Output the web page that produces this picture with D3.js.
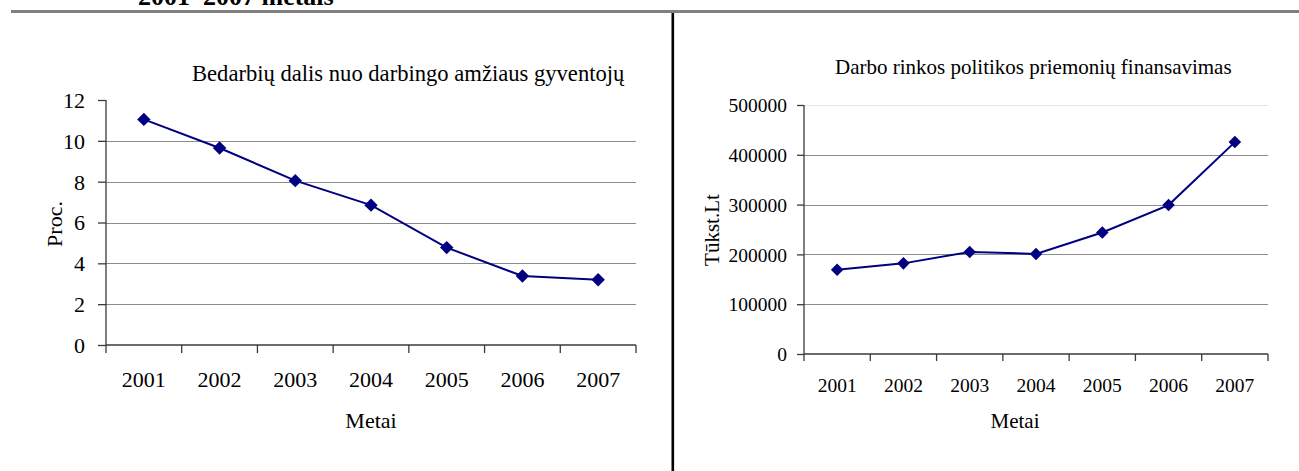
<!DOCTYPE html>
<html>
<head>
<meta charset="utf-8">
<script src="https://cdn.jsdelivr.net/npm/d3@7"></script>
<style>
  body { margin: 0; background: #fff; }
  svg { display: block; }
  svg text { font-family: "Liberation Serif", "Times New Roman", serif; }
  .grid { stroke: #8c8c8c; stroke-width: 1; }
  .ax { stroke: #3a3a3a; stroke-width: 1.3; fill: none; }
</style>
</head>
<body>
<svg id="page" width="1299" height="471"></svg>
<script>
// data
var years = ["2001", "2002", "2003", "2004", "2005", "2006", "2007"];
var unemployed = [11.05, 9.65, 8.05, 6.85, 4.77, 3.38, 3.2];      // Proc.
var funding = [169000, 182000, 205000, 201000, 244000, 299000, 425500]; // Tūkst.Lt
var leftTicks = [0, 2, 4, 6, 8, 10, 12];
var rightTicks = [0, 100000, 200000, 300000, 400000, 500000];

var svg = d3.select("#page");

// page header left-overs: cut heading, grey rule, divider
svg.append("text")
    .attr("x", 138).attr("y", 5)
    .style("font-weight", "bold").style("font-size", "26px")
    .text("2001\u20132007 metais");
svg.append("rect").attr("x", 11).attr("y", 10).attr("width", 1288).attr("height", 3).attr("fill", "#808080");
svg.append("rect").attr("x", 671.5).attr("y", 13).attr("width", 2.6).attr("height", 458).attr("fill", "#000");

function lineChart(o) {
  var g = svg.append("g");
  var x = d3.scaleBand().domain(years).range(o.xr).padding(0);
  var y = d3.scaleLinear().domain([0, o.max]).range(o.yr);
  var cx = function(d) { return x(d) + x.bandwidth() / 2; };

  // gridlines
  g.selectAll(".grid").data(o.ticks.filter(function(t) { return t > 0; }))
    .enter().append("line")
    .attr("class", "grid")
    .attr("x1", o.xr[0]).attr("x2", o.xr[1])
    .attr("y1", function(t) { return Math.round(y(t)) + 0.5; })
    .attr("y2", function(t) { return Math.round(y(t)) + 0.5; })
    .style("stroke", function(t) { return t == o.max ? o.topGrid : null; });

  // y axis
  var ya = g.append("g").attr("transform", "translate(" + o.xr[0] + ",0)")
    .call(d3.axisLeft(y).tickValues(o.ticks).tickSize(o.tick).tickPadding(o.pad).tickFormat(d3.format("d")));
  ya.attr("font-family", null).attr("font-size", null);
  ya.select(".domain").attr("class", "ax").attr("d", "M0," + o.yr[1] + "V" + o.yr[0]);
  ya.selectAll(".tick line").attr("class", "ax");
  ya.selectAll(".tick text")
    .style("font-size", o.fs + "px").attr("fill", "#000").attr("dy", "0.34em");

  // x axis: ticks on band edges, labels in the middle
  var xa = g.append("g").attr("transform", "translate(0," + o.yr[0] + ")");
  xa.append("line").attr("class", "ax").attr("x1", o.xr[0]).attr("x2", o.xr[1]);
  xa.selectAll(".edge").data(years.map(function(d) { return x(d); }).concat([o.xr[1]]))
    .enter().append("line").attr("class", "ax")
    .attr("x1", function(d) { return d; }).attr("x2", function(d) { return d; })
    .attr("y1", 0).attr("y2", o.tick);
  xa.selectAll(".yl").data(years).enter().append("text")
    .attr("x", cx).attr("y", o.yearDy)
    .attr("text-anchor", "middle").style("font-size", o.fs + "px")
    .text(function(d) { return d; });

  // series
  var pts = years.map(function(d, i) { return [cx(d), y(o.values[i])]; });
  g.append("path").attr("d", d3.line()(pts))
    .attr("fill", "none").attr("stroke", "#000080").attr("stroke-width", 2);
  g.selectAll(".mk").data(pts).enter().append("path")
    .attr("d", d3.symbol(d3.symbolDiamond2, o.mk))
    .attr("transform", function(p) { return "translate(" + p[0] + "," + p[1] + ")"; })
    .attr("fill", "#000080");

  // titles
  g.append("text").attr("x", o.title[0]).attr("y", o.title[1])
    .style("font-size", o.titleFs + "px").text(o.titleText);
  g.append("text").attr("x", o.metai[0]).attr("y", o.metai[1])
    .attr("text-anchor", "middle").style("font-size", o.labFs + "px").text("Metai");
  g.append("text")
    .attr("transform", "translate(" + o.ylab[0] + "," + o.ylab[1] + ") rotate(-90)")
    .attr("text-anchor", "middle").style("font-size", o.labFs + "px").text(o.ylabText);
}

lineChart({
  xr: [106, 636], yr: [345, 100], max: 12, ticks: leftTicks, values: unemployed,
  tick: 8, pad: 13, fs: 22, yearDy: 42, topGrid: "none", mk: 115,
  title: [192, 81], titleFs: 22.6, titleText: "Bedarbių dalis nuo darbingo amžiaus gyventojų",
  metai: [371, 428], labFs: 22, ylab: [62, 224], ylabText: "Proc."
});

lineChart({
  xr: [804, 1268], yr: [354, 105], max: 500000, ticks: rightTicks, values: funding,
  tick: 7, pad: 10, fs: 19.5, yearDy: 38, topGrid: "#e4e4e4", mk: 100,
  title: [835, 74], titleFs: 21, titleText: "Darbo rinkos politikos priemonių finansavimas",
  metai: [1015, 428], labFs: 21, ylab: [719, 230], ylabText: "Tūkst.Lt"
});
</script>
</body>
</html>
